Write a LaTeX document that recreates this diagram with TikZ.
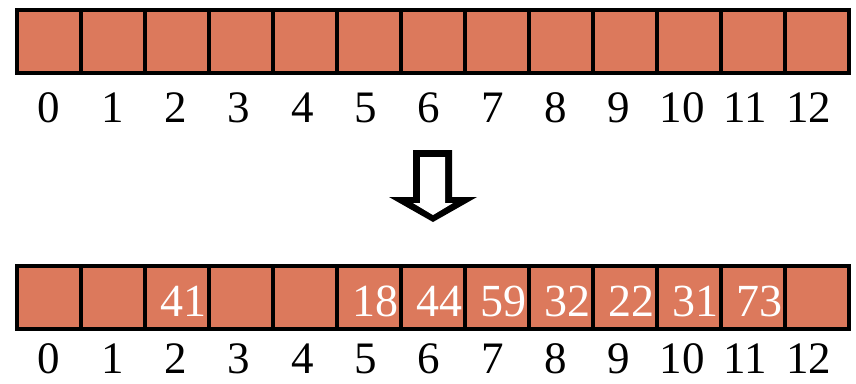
\documentclass[tikz,border=0pt]{standalone}
\usepackage{fontspec}
\setmainfont{Liberation Serif}
\usepackage{tikz}
\usetikzlibrary{positioning}
\definecolor{CellFill}{HTML}{DC795C}
\definecolor{CellEdge}{HTML}{000000}

\tikzset{
  cell/.style={draw=CellEdge,fill=CellFill,line width=4pt,inner sep=0pt,
    outer sep=0pt,minimum width=64pt,minimum height=63.5pt},
  idx/.style={anchor=base,inner sep=0pt,text depth=0pt,
    font=\fontsize{45}{54}\selectfont},
  val/.style={anchor=base east,inner sep=0pt,text depth=0pt,text=white,
    font=\fontsize{46}{55}\selectfont}
}

\begin{document}
\begin{tikzpicture}[x=1pt,y=-1pt]
  \useasboundingbox (0,0) rectangle (856,383);
  % empty table, then the filled one
  \foreach \i in {0,...,12}{
    \node[cell] (t\i) at ({49+64*\i},41.25) {};
    \node[cell] (b\i) at ({49+64*\i},297.5) {};
    \node[idx] (tl\i) at ({49+63.33*\i},122.5) {\i};
    \node[idx] (bl\i) at ({49+63.33*\i},373) {\i};
  }
  \foreach \i/\v in {2/41,5/18,6/44,7/59,8/32,9/22,10/31,11/73}{
    \node[val] (v\i) at ({79+64*\i},316) {\v};
  }
  % hollow block arrow between the two rows
  \fill[black] (413,150) -- (452,150) -- (452,197) -- (477,197) -- (433,222)
    -- (389,197) -- (413,197) -- cycle;
  \fill[white] (420,157) -- (445,157) -- (445,203) -- (453,203) -- (433,215)
    -- (413,203) -- (420,203) -- cycle;
\end{tikzpicture}
\end{document}
